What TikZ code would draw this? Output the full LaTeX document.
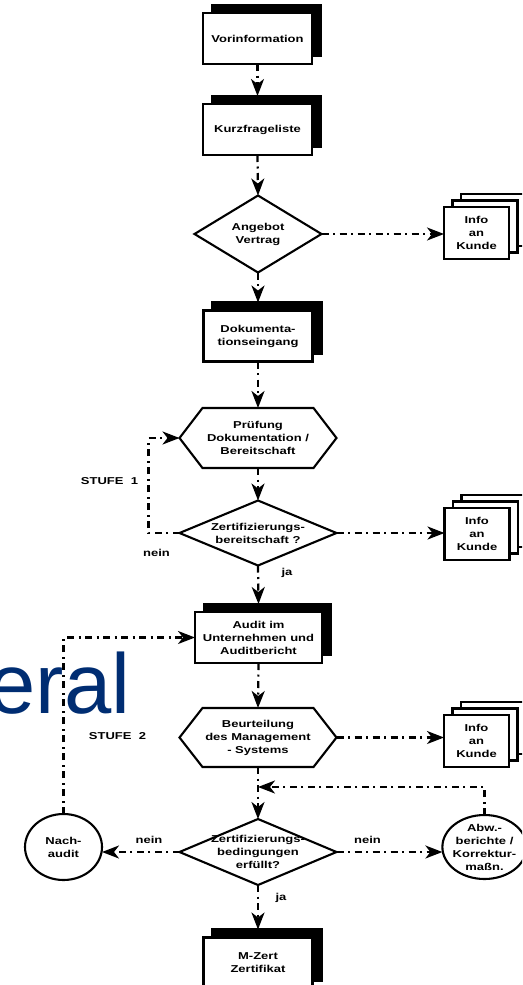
\documentclass[tikz,border=0pt]{standalone}
\usepackage{fontspec}
\setmainfont{Liberation Sans}[FakeStretch=1.3]
\newfontfamily\titelfont{Liberation Sans}
\usetikzlibrary{arrows.meta,shapes.geometric,shadows}
\definecolor{titelblau}{RGB}{0,45,114}

\tikzset{
    txt/.style={font=\fontsize{10}{13}\selectfont\bfseries, align=center, inner sep=0pt, outer sep=0pt},
    doc/.style={txt, draw, fill=white, line width=2.1pt, minimum width=109pt, minimum height=51pt,
        copy shadow={shadow xshift=9pt, shadow yshift=8pt, fill=black, draw=black}},
    stapel/.style={txt, draw, fill=white, line width=2.1pt, minimum width=65pt, minimum height=52pt,
        copy shadow={shadow xshift=17pt, shadow yshift=13pt, fill=white, draw=black},
        copy shadow={shadow xshift=8.5pt, shadow yshift=6.5pt, fill=white, draw=black}},
    frei/.style={txt, minimum width=157pt},
    kreis/.style={txt, ellipse, draw, fill=white, line width=2.1pt, inner sep=-2pt,
        minimum width=77pt, minimum height=66pt},
    rahmen/.style={line width=2.1pt, line join=miter},
    link/.style={line width=2.2pt, dash pattern=on 7pt off 4.5pt on 2pt off 4.5pt,
        -{Stealth[length=17pt,width=13pt,inset=5pt]}},
    lbl/.style={font=\fontsize{10}{12}\selectfont\bfseries, inner sep=0pt},
    titel/.style={font=\titelfont\fontsize{85}{85}\selectfont, text=titelblau,
        anchor=base west, inner sep=0pt}
}

% frames round the text nodes
\newcommand{\diaframe}[1]{\draw[rahmen] (#1.north) -- (#1.east) -- (#1.south) -- (#1.west) -- cycle;}
\newcommand{\hexframe}[1]{\draw[rahmen] (#1.west) -- ([xshift=23pt]#1.north west)
    -- ([xshift=-23pt]#1.north east) -- (#1.east) -- ([xshift=-23pt]#1.south east)
    -- ([xshift=23pt]#1.south west) -- cycle;}

\begin{document}
\begin{tikzpicture}[x=1pt,y=-1pt]
    \useasboundingbox (0,0) rectangle (522,985);
    \clip (0,0) rectangle (522,985);

    % Title fragment
    \node[titel] (titel) at (-11.6,713) {eral};

    % Main column
    \node[doc] (vor) at (257.5,38.5) {Vorinformation};
    \node[doc] (kurz) at (257.5,129.5) {Kurzfrageliste};
    \node[frei, minimum width=127pt, minimum height=77pt] (angebot) at (258,234) {Angebot\\Vertrag};
    \node[doc] (doku) at (258,336) {Dokumenta-\\tionseingang};
    \node[frei, minimum height=60pt] (pruef) at (258,438) {Prüfung\\Dokumentation /\\Bereitschaft};
    \node[frei, minimum height=65pt] (zert1) at (258,533) {Zertifizierungs-\\bereitschaft ?};
    \node[doc, minimum width=127pt] (audit) at (258.5,637.5) {Audit im\\Unternehmen und\\Auditbericht};
    \node[frei, minimum height=59pt] (beurt) at (258,737.5) {Beurteilung\\des Management\\- Systems};
    \node[frei, minimum height=66pt] (zert2) at (258,852) {Zertifizierungs-\\bedingungen\\erfüllt?};
    \node[doc] (mzert) at (258,963) {M-Zert\\Zertifikat};

    \diaframe{angebot}
    \hexframe{pruef}
    \diaframe{zert1}
    \hexframe{beurt}
    \diaframe{zert2}

    % Info to customer
    \node[stapel] (info1) at (476.5,233) {Info\\an\\Kunde};
    \node[stapel] (info2) at (477,534) {Info\\an\\Kunde};
    \node[stapel] (info3) at (476.5,741) {Info\\an\\Kunde};

    % Side loops
    \node[kreis] (nach) at (63.5,847) {Nach-\\audit};
    \node[kreis, minimum width=75pt, minimum height=64pt] (abw) at (484.5,847) {Abw.-\\berichte /\\Korrektur-\\maßn.};
    \coordinate (rueck) at (258,787);

    % Flow down
    \draw[link] (vor.south) -- ([yshift=8pt]kurz.north);
    \draw[link] (kurz.south) -- (angebot.north);
    \draw[link] (angebot.south) -- ([yshift=8pt]doku.north);
    \draw[link] (doku.south) -- (pruef.north);
    \draw[link] (pruef.south) -- (zert1.north);
    \draw[link] (zert1.south) -- ([yshift=8pt]audit.north);
    \draw[link] (audit.south) -- (beurt.north);
    \draw[link] (beurt.south) -- (zert2.north);
    \draw[link] (zert2.south) -- ([yshift=8pt]mzert.north);

    % Branches
    \draw[link] (angebot.east) -- (angebot.east -| info1.west);
    \draw[link] (zert1.east) -- (zert1.east -| info2.west);
    \draw[link] (beurt.east) -- (beurt.east -| info3.west);
    \draw[link] (zert1.west) -- ++(-31,0) |- (pruef.west);
    \draw[link] (zert2.west) -- (zert2.west -| nach.east);
    \draw[link] (zert2.east) -- (zert2.east -| abw.west);
    \draw[link] (nach.north) |- (audit.west);
    \draw[link] (abw.north) |- (rueck);

    % Labels
    \node[lbl] (stufe1) at (109.5,481) {STUFE\ \ 1};
    \node[lbl] (stufe2) at (117.5,736) {STUFE\ \ 2};
    \node[lbl] (nein1) at (156.5,553) {nein};
    \node[lbl] (ja1) at (287,573) {ja};
    \node[lbl] (nein2) at (149,840) {nein};
    \node[lbl] (nein3) at (367.5,840) {nein};
    \node[lbl] (ja2) at (281,898) {ja};
\end{tikzpicture}
\end{document}
